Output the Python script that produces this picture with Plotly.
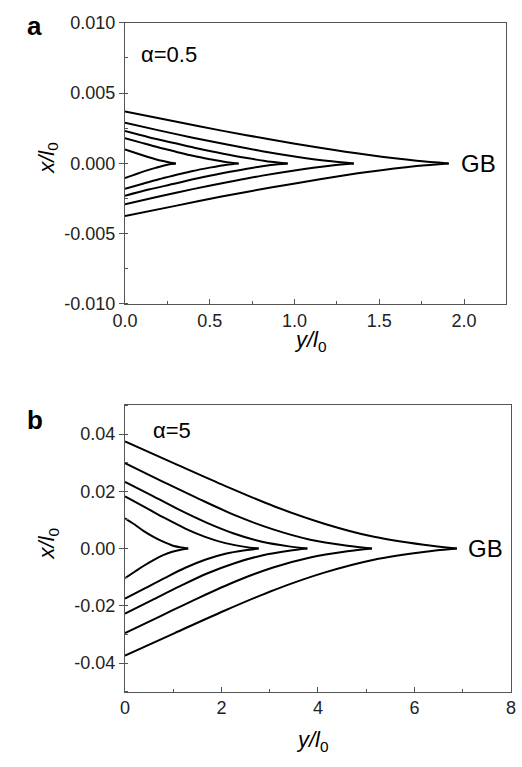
import plotly.graph_objects as go

# ---------------- data: panel a (alpha = 0.5) ----------------
a1_y = [0, 0.045, 0.09, 0.135, 0.18, 0.225, 0.27, 0.30]
a1_up = [0.00100, 0.00081, 0.00063, 0.00046, 0.00030, 0.000165, 0.00005, 0]
a1_lo = [-0.00105, -0.00085, -0.00066, -0.00048, -0.00032, -0.00017, -0.00005, 0]

a2_y = [0, 0.10, 0.20, 0.30, 0.40, 0.50, 0.60, 0.67]
a2_up = [0.0018, 0.00146, 0.00113, 0.00083, 0.00054, 0.00030, 0.00009, 0]
a2_lo = [-0.0018, -0.00146, -0.00113, -0.00083, -0.00054, -0.00030, -0.00009, 0]

a3_y = [0, 0.14, 0.29, 0.43, 0.58, 0.72, 0.86, 0.96]
a3_up = [0.0023, 0.00186, 0.00145, 0.00106, 0.00069, 0.00038, 0.000115, 0]
a3_lo = [-0.0023, -0.00186, -0.00145, -0.00106, -0.00069, -0.00038, -0.000115, 0]

a4_y = [0, 0.20, 0.40, 0.61, 0.81, 1.01, 1.22, 1.35]
a4_up = [0.0029, 0.00235, 0.00183, 0.00133, 0.00087, 0.00048, 0.000145, 0]
a4_lo = [-0.0029, -0.00235, -0.00183, -0.00133, -0.00087, -0.00048, -0.000145, 0]

a5_y = [0, 0.29, 0.57, 0.86, 1.15, 1.43, 1.72, 1.91]
a5_up = [0.0037, 0.0030, 0.00233, 0.0017, 0.00111, 0.00061, 0.000185, 0]
a5_lo = [-0.00375, -0.00304, -0.00236, -0.00172, -0.00113, -0.00062, -0.00019, 0]

# ---------------- data: panel b (alpha = 5) ----------------
b1_y = [0, 0.20, 0.39, 0.59, 0.79, 0.98, 1.18, 1.31]
b1_up = [0.0106, 0.0084, 0.0061, 0.0041, 0.0024, 0.0011, 0.00035, 0]
b1_lo = [-0.0103, -0.0081, -0.0060, -0.0040, -0.0023, -0.0011, -0.00034, 0]

b2_y = [0, 0.42, 0.83, 1.25, 1.66, 2.08, 2.49, 2.77]
b2_up = [0.0182, 0.0144, 0.0106, 0.0070, 0.0041, 0.0019, 0.0006, 0]
b2_lo = [-0.0175, -0.0138, -0.0102, -0.0067, -0.0039, -0.0018, -0.00058, 0]

b3_y = [0, 0.57, 1.13, 1.70, 2.27, 2.84, 3.40, 3.78]
b3_up = [0.0233, 0.0184, 0.0135, 0.0090, 0.0052, 0.0024, 0.00077, 0]
b3_lo = [-0.0227, -0.0179, -0.0132, -0.0087, -0.0051, -0.0024, -0.00075, 0]

b4_y = [0, 0.77, 1.54, 2.30, 3.07, 3.84, 4.61, 5.12]
b4_up = [0.0298, 0.0235, 0.0173, 0.0115, 0.0067, 0.0031, 0.00098, 0]
b4_lo = [-0.0295, -0.0233, -0.0171, -0.0114, -0.0066, -0.0031, -0.00097, 0]

b5_y = [0, 1.03, 2.06, 3.10, 4.13, 5.16, 6.19, 6.88]
b5_up = [0.0374, 0.0297, 0.0220, 0.0147, 0.0087, 0.0041, 0.0013, 0]
b5_lo = [-0.0374, -0.0295, -0.0217, -0.0144, -0.0084, -0.0039, -0.0012, 0]

# ---------------- tick labels ----------------
a_xticks = [0.0, 0.5, 1.0, 1.5, 2.0]
a_xlabels = ["0.0", "0.5", "1.0", "1.5", "2.0"]
a_yticks = [-0.010, -0.005, 0.0, 0.005, 0.010]
a_ylabels = ["-0.010", "-0.005", "0.000", "0.005", "0.010"]
b_xticks = [0, 2, 4, 6, 8]
b_xlabels = ["0", "2", "4", "6", "8"]
b_yticks = [-0.04, -0.02, 0.0, 0.02, 0.04]
b_ylabels = ["-0.04", "-0.02", "0.00", "0.02", "0.04"]

FONT = "Liberation Sans, Arial, sans-serif"
W, H = 522, 767

fig = go.Figure()

panel_a = [(a1_y, a1_up, a1_lo), (a2_y, a2_up, a2_lo), (a3_y, a3_up, a3_lo),
           (a4_y, a4_up, a4_lo), (a5_y, a5_up, a5_lo)]
panel_b = [(b1_y, b1_up, b1_lo), (b2_y, b2_up, b2_lo), (b3_y, b3_up, b3_lo),
           (b4_y, b4_up, b4_lo), (b5_y, b5_up, b5_lo)]

line = dict(color="black", width=2, shape="spline", smoothing=0.9)
for ys, up, lo in panel_a:
    for branch in (up, lo):
        fig.add_trace(go.Scatter(x=ys, y=branch, mode="lines", line=line,
                                 xaxis="x", yaxis="y", showlegend=False,
                                 hoverinfo="skip"))
for ys, up, lo in panel_b:
    for branch in (up, lo):
        fig.add_trace(go.Scatter(x=ys, y=branch, mode="lines", line=line,
                                 xaxis="x2", yaxis="y2", showlegend=False,
                                 hoverinfo="skip"))


def px(x):
    return x / W


def py(y):
    return 1 - y / H


axcommon = dict(showline=True, linecolor="#555555", linewidth=1.3, mirror=True,
                showgrid=False, zeroline=False,
                tickfont=dict(family=FONT, size=18, color="#222222"),
                tickcolor="#555555", ticklen=5, tickwidth=1.2)

fig.update_layout(
    width=W, height=H,
    margin=dict(l=0, r=0, t=0, b=0),
    paper_bgcolor="white", plot_bgcolor="white",
    xaxis=dict(domain=[px(116), px(511)], anchor="y", range=[0, 2.25],
               tickmode="array", tickvals=a_xticks, ticktext=a_xlabels,
               ticks="inside",
               minor=dict(dtick=0.25, ticks="inside", ticklen=3,
                          tickcolor="#555555"),
               **axcommon),
    yaxis=dict(domain=[py(302), py(13)], anchor="x", range=[-0.01001, 0.01001],
               tickmode="array", tickvals=a_yticks, ticktext=a_ylabels,
               ticks="outside",
               minor=dict(dtick=0.0025, ticks="inside", ticklen=3,
                          tickcolor="#555555"),
               **axcommon),
    xaxis2=dict(domain=[px(116), px(516)], anchor="y2", range=[0, 8.005],
                tickmode="array", tickvals=b_xticks, ticktext=b_xlabels,
                ticks="inside",
                minor=dict(dtick=1, ticks="inside", ticklen=3,
                           tickcolor="#555555"),
                **axcommon),
    yaxis2=dict(domain=[py(700), py(406)], anchor="x2", range=[-0.05, 0.05],
                tickmode="array", tickvals=b_yticks, ticktext=b_ylabels,
                ticks="outside",
                minor=dict(dtick=0.01, ticks="inside", ticklen=3,
                           tickcolor="#555555"),
                **axcommon),
)

ann = []


def text(x, y, s, size, angle=0, bold=False, xanchor="center"):
    ann.append(dict(x=px(x), y=py(y), xref="paper", yref="paper", text=s,
                    showarrow=False, textangle=angle, xanchor=xanchor,
                    yanchor="middle",
                    font=dict(family=FONT, size=size, color="black")))


text(22, 16, "<b>a</b>", 26)
text(23, 421, "<b>b</b>", 26)
text(130, 46, "α=0.5", 22, xanchor="left")
text(143, 432, "α=5", 22, xanchor="left")
text(462, 158, "GB", 24, xanchor="left")
text(469, 553, "GB", 24, xanchor="left")
text(36, 152, "<i>x/l</i><sub>0</sub>", 22, angle=-90)
text(36, 548, "<i>x/l</i><sub>0</sub>", 22, angle=-90)
text(308, 340, "<i>y/l</i><sub>0</sub>", 22)
text(310, 751, "<i>y/l</i><sub>0</sub>", 22)

fig.update_layout(annotations=ann)

fig.write_html("out.html")
